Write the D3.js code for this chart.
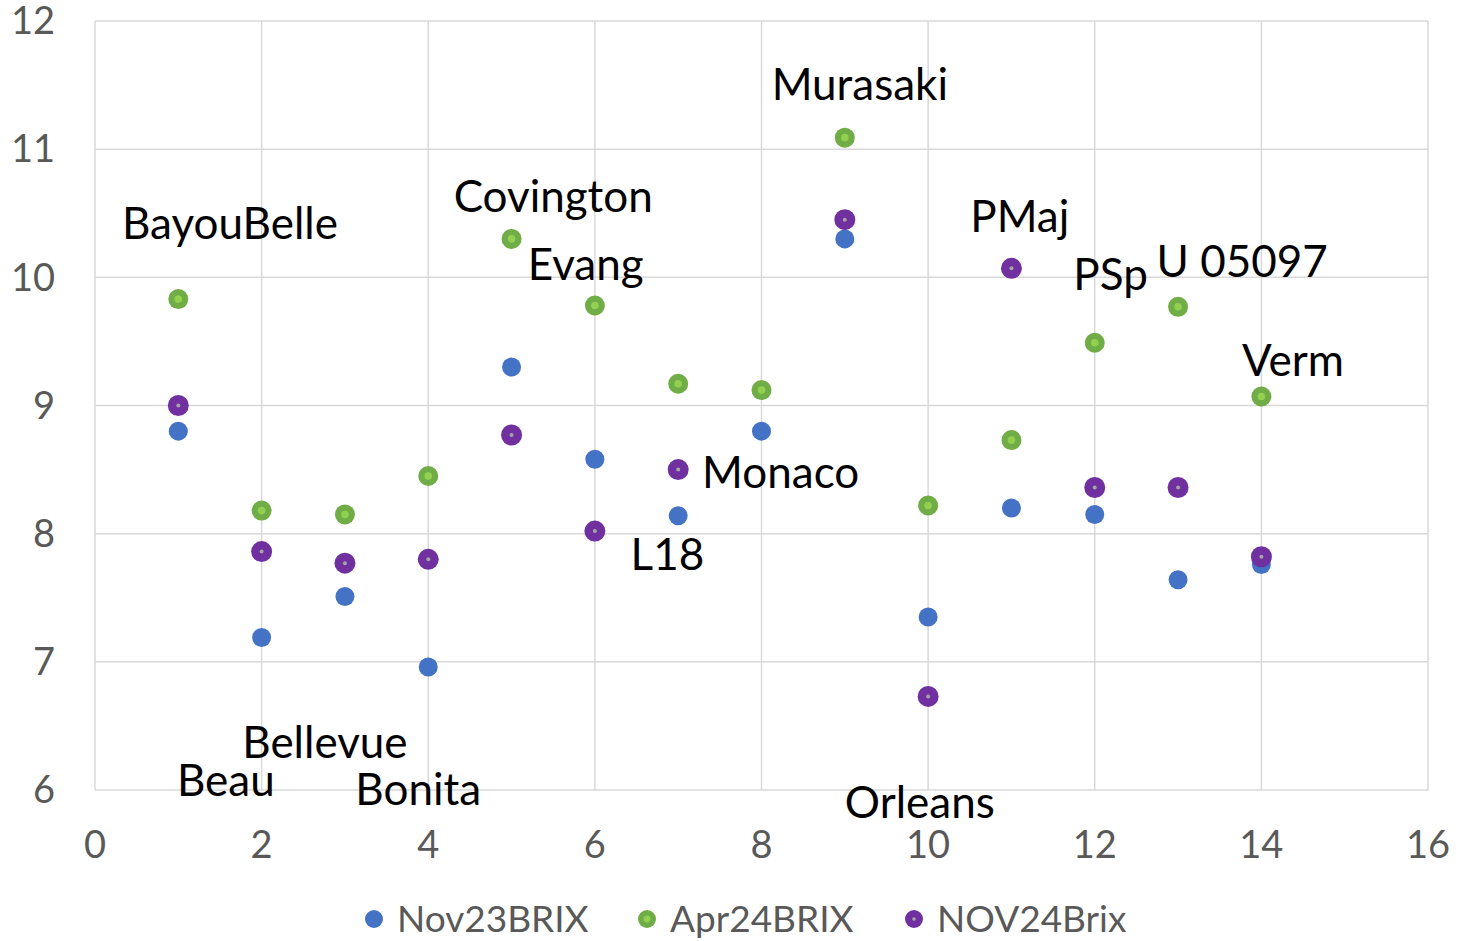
<!DOCTYPE html>
<html><head><meta charset="utf-8">
<script src="https://cdn.jsdelivr.net/npm/d3@7"></script>
<style>body{margin:0;background:#fff}svg{display:block}text{font-family:Lato,"Open Sans",sans-serif}</style>
</head><body><svg id="c" width="1463" height="941"></svg>
<script>
const xs = [1,2,3,4,5,6,7,8,9,10,11,12,13,14];
const nov23 = [8.80,7.19,7.51,6.96,9.30,8.58,8.14,8.80,10.30,7.35,8.20,8.15,7.64,7.76];
const apr24 = [9.83,8.18,8.15,8.45,10.30,9.78,9.17,9.12,11.09,8.22,8.73,9.49,9.77,9.07];
const nov24 = [9.00,7.86,7.77,7.80,8.77,8.02,8.50,null,10.45,6.73,10.07,8.36,8.36,7.82];
const labels = ["BayouBelle","Beau","Bellevue","Bonita","Covington","Evang","L18","Monaco","Murasaki","Orleans","PMaj","PSp","U 05097","Verm"];
const labelX = [1.62,1.57,2.76,3.88,5.50,5.89,6.87,8.23,9.18,9.90,11.10,12.19,13.77,14.38];
const labelY = [10.42,6.07,6.37,6.00,10.63,10.10,7.84,8.48,11.50,5.90,10.47,10.02,10.12,9.35];
const seriesNames = ["Nov23BRIX","Apr24BRIX","NOV24Brix"];
const xTicks = [0,2,4,6,8,10,12,14,16];
const yTicks = [6,7,8,9,10,11,12];

const svg = d3.select("#c");
const L=95,R=1428,T=21,B=790;
const x = d3.scaleLinear().domain([0,16]).range([L,R]);
const y = d3.scaleLinear().domain([6,12]).range([B,T]);

// grid
svg.append("g").selectAll("line").data(xTicks).join("line")
  .attr("x1",d=>x(d)).attr("x2",d=>x(d)).attr("y1",T).attr("y2",B)
  .attr("stroke","#d9d9d9").attr("stroke-width",1.5);
svg.append("g").selectAll("line").data(yTicks).join("line")
  .attr("x1",L).attr("x2",R).attr("y1",d=>y(d)).attr("y2",d=>y(d))
  .attr("stroke","#d9d9d9").attr("stroke-width",1.5);

// tick labels
svg.append("g").selectAll("text").data(yTicks).join("text")
  .attr("x",55).attr("y",d=>y(d)).attr("dy","0.35em").attr("text-anchor","end")
  .attr("font-size",38).attr("fill","#595959").text(d=>d);
svg.append("g").selectAll("text").data(xTicks).join("text")
  .attr("x",d=>x(d)).attr("y",845).attr("dy","0.35em").attr("text-anchor","middle")
  .attr("font-size",38).attr("fill","#595959").text(d=>d);

const styles = [
  {fill:"#4472C4", r:9.5, inner:null, ir:0},
  {fill:"#70AD47", r:10, inner:"#92D050", ir:3.8},
  {fill:"#7030A0", r:10.5, inner:"#A5A5A5", ir:2}
];
const all = [nov23, apr24, nov24];
all.forEach((vals,i)=>{
  const pts = xs.map((xv,j)=>({x:xv,y:vals[j]})).filter(d=>d.y!=null);
  const g = svg.append("g");
  g.selectAll("circle.o").data(pts).join("circle").attr("class","o")
    .attr("cx",d=>x(d.x)).attr("cy",d=>y(d.y)).attr("r",styles[i].r).attr("fill",styles[i].fill);
  if(styles[i].inner){
    g.selectAll("circle.i").data(pts).join("circle").attr("class","i")
      .attr("cx",d=>x(d.x)).attr("cy",d=>y(d.y)).attr("r",styles[i].ir).attr("fill",styles[i].inner);
  }
});

// data labels
svg.append("g").selectAll("text").data(labels).join("text")
  .attr("x",(d,i)=>x(labelX[i])).attr("y",(d,i)=>y(labelY[i])).attr("dy","0.35em")
  .attr("text-anchor","middle").attr("font-size",44).attr("fill","#000").text(d=>d);

// legend
const legX = [374,647,914];
const lg = svg.append("g");
seriesNames.forEach((n,i)=>{
  lg.append("circle").attr("cx",legX[i]).attr("cy",919).attr("r",9).attr("fill",styles[i].fill);
  if(styles[i].inner) lg.append("circle").attr("cx",legX[i]).attr("cy",919).attr("r",styles[i].ir*0.9).attr("fill",styles[i].inner);
  lg.append("text").attr("x",legX[i]+23).attr("y",919).attr("dy","0.35em")
    .attr("font-size",37).attr("fill","#595959").text(n);
});
</script></body></html>
